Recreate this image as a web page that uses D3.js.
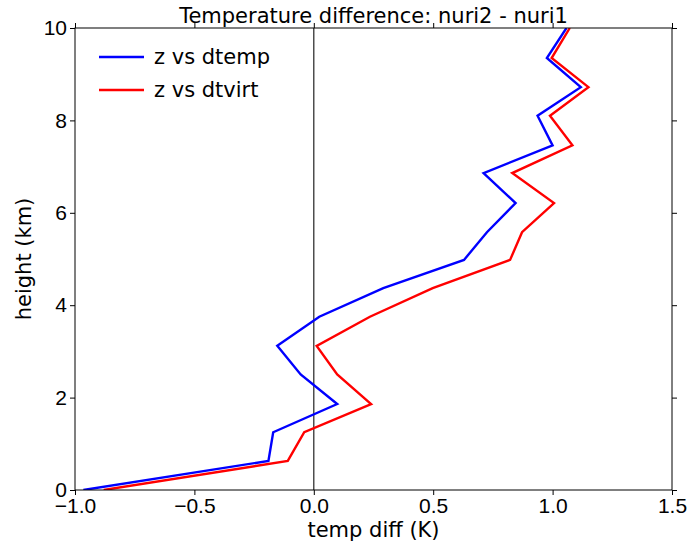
<!DOCTYPE html>
<html>
<head>
<meta charset="utf-8">
<script src="https://cdn.jsdelivr.net/npm/d3@7"></script>
<style>
  body { margin: 0; background: #fff; }
  svg { font-family: "DejaVu Sans", sans-serif; }
</style>
</head>
<body>
<script>
// heights (km) and temperature differences (K)
const heights = [0, 0.63, 1.25, 1.86, 2.5, 3.12, 3.75, 4.37, 4.98, 5.58, 6.21, 6.86, 7.46, 8.1, 8.72, 9.35, 10];
const dtemp = [-0.965, -0.19, -0.17, 0.098, -0.055, -0.153, 0.023, 0.291, 0.629, 0.725, 0.845, 0.711, 1.0, 0.937, 1.118, 0.976, 1.058];
const dtvirt = [-0.88, -0.109, -0.04, 0.24, 0.098, 0.012, 0.235, 0.498, 0.822, 0.872, 1.006, 0.831, 1.083, 0.989, 1.15, 0.996, 1.072];
const xTicks = [-1.0, -0.5, 0.0, 0.5, 1.0, 1.5];
const yTicks = [0, 2, 4, 6, 8, 10];
const seriesNames = ["z vs dtemp", "z vs dtvirt"];
const seriesColors = ["#0000ff", "#ff0000"];

const width = 688, height = 546;
const margin = { left: 75, right: 16, top: 28, bottom: 56 };
const fontSize = "21px";

const svg = d3.select("body").append("svg").attr("width", width).attr("height", height);

const scaleX = d3.scaleLinear([-1.0, 1.5], [margin.left, width - margin.right]);
const scaleY = d3.scaleLinear([0, 10], [height - margin.bottom, margin.top]);

svg.append("defs").append("clipPath").attr("id", "clip")
    .append("rect")
    .attr("x", margin.left).attr("y", margin.top)
    .attr("width", scaleX.range()[1] - margin.left)
    .attr("height", scaleY.range()[0] - margin.top);

// zero line
svg.append("line")
    .attr("x1", scaleX(0)).attr("x2", scaleX(0))
    .attr("y1", scaleY(0)).attr("y2", scaleY(10))
    .attr("stroke", "#222").attr("stroke-width", 1.2);

const series = [dtemp, dtvirt];
const line = d3.line().x(d => scaleX(d[0])).y(d => scaleY(d[1]));
svg.append("g").attr("clip-path", "url(#clip)")
    .selectAll("path.series").data(series).enter().append("path")
    .attr("class", "series")
    .attr("fill", "none")
    .attr("stroke", (d, i) => seriesColors[i])
    .attr("stroke-width", 2.4)
    .attr("d", d => line(d.map((v, i) => [v, heights[i]])));

function styleAxis(g) {
    g.select(".domain").remove();
    g.selectAll(".tick line").attr("stroke", "#000").attr("stroke-width", 1);
    g.selectAll(".tick text").style("font-size", fontSize).attr("fill", "#000");
}

const fmtX = d3.format(".1f");
svg.append("g").attr("transform", `translate(0,${scaleY(0)})`)
    .call(d3.axisBottom(scaleX).tickValues(xTicks).tickFormat(d => fmtX(d).replace("-", "\u2212")).tickSize(5).tickPadding(3))
    .call(styleAxis);
svg.append("g").attr("transform", `translate(0,${scaleY(10)})`)
    .call(d3.axisTop(scaleX).tickValues(xTicks).tickFormat("").tickSize(5))
    .call(styleAxis);
svg.append("g").attr("transform", `translate(${scaleX(-1)},0)`)
    .call(d3.axisLeft(scaleY).tickValues(yTicks).tickFormat(d3.format("d")).tickSize(5).tickPadding(3))
    .call(styleAxis);
svg.append("g").attr("transform", `translate(${scaleX(1.5)},0)`)
    .call(d3.axisRight(scaleY).tickValues(yTicks).tickFormat("").tickSize(5))
    .call(styleAxis);

// frame
svg.append("rect")
    .attr("x", scaleX(-1)).attr("y", scaleY(10))
    .attr("width", scaleX(1.5) - scaleX(-1)).attr("height", scaleY(0) - scaleY(10))
    .attr("fill", "none").attr("stroke", "#000").attr("stroke-width", 1);

// title and labels
svg.append("text")
    .attr("x", (scaleX(-1) + scaleX(1.5)) / 2).attr("y", 23)
    .attr("text-anchor", "middle").style("font-size", fontSize)
    .text("Temperature difference: nuri2 - nuri1");
svg.append("text")
    .attr("x", (scaleX(-1) + scaleX(1.5)) / 2).attr("y", 537)
    .attr("text-anchor", "middle").style("font-size", fontSize)
    .text("temp diff (K)");
svg.append("text")
    .attr("transform", `translate(31,${(scaleY(0) + scaleY(10)) / 2}) rotate(-90)`)
    .attr("text-anchor", "middle").style("font-size", fontSize)
    .text("height (km)");

// legend
const legend = svg.append("g").selectAll("g").data(seriesNames).enter().append("g")
    .attr("transform", (d, i) => `translate(99,${57 + i * 33})`);
legend.append("line")
    .attr("x1", 0).attr("x2", 45).attr("y1", 0).attr("y2", 0)
    .attr("stroke", (d, i) => seriesColors[i]).attr("stroke-width", 2.4);
legend.append("text")
    .attr("x", 55).attr("y", 7)
    .style("font-size", fontSize)
    .text(d => d);
</script>
</body>
</html>
